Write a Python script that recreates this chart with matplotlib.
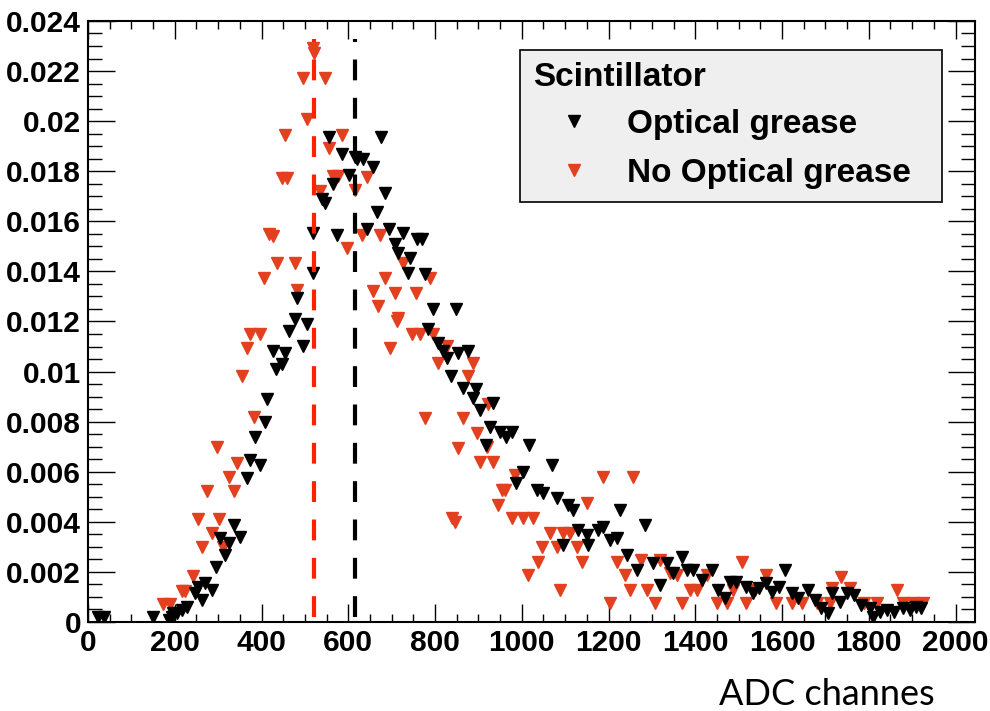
import matplotlib
matplotlib.use("Agg")
import matplotlib.pyplot as plt
from matplotlib.ticker import MultipleLocator, FuncFormatter

plt.rcParams['font.family'] = ['Liberation Sans', 'DejaVu Sans']

# --- values ---
# Optical grease (black)
grease_x = [23, 37, 150, 187, 194, 196, 205, 217, 228, 247, 253, 263, 270, 286, 295, 316, 304, 325, 336, 350,
            366, 373, 396, 385, 408, 412, 433, 447, 426, 454, 463, 477, 495, 505, 482, 518, 518, 539, 546, 555,
            564, 574, 585, 601, 615, 620, 634, 643, 657, 666, 675, 684, 694, 707, 714, 726, 742, 758, 770, 737,
            776, 795, 848, 783, 806, 818, 827, 852, 876, 836, 864, 894, 887, 903, 933, 926, 949, 963, 977, 917,
            1016, 1002, 986, 1034, 1048, 1069, 1081, 1106, 1117, 1129, 1150, 1175, 1187, 1226, 1283, 1203, 1219,
            1094, 1152, 1242, 1265, 1302, 1334, 1318, 1348, 1369, 1380, 1394, 1415, 1438, 1452, 1468, 1479, 1495,
            1518, 1532, 1548, 1564, 1578, 1594, 1606, 1622, 1636, 1659, 1675, 1691, 1705, 1716, 1733, 1749, 1767,
            1783, 1802, 1809, 1825, 1843, 1859, 1878, 1894, 1910, 1921]
grease_y = [0.20, 0.20, 0.20, 0.08, 0.20, 0.36, 0.36, 0.48, 0.60, 1.16, 1.39, 0.88, 1.55, 1.27, 2.19, 2.67, 3.35,
            3.15, 3.86, 3.39, 5.74, 6.45, 6.25, 7.37, 7.97, 8.92, 10.12, 10.32, 10.84, 10.76, 11.63, 12.11, 11.04,
            11.91, 12.95, 13.94, 15.54, 16.89, 16.73, 19.36, 17.49, 15.46, 18.68, 17.85, 18.57, 18.49, 18.49,
            15.70, 18.17, 16.37, 19.36, 17.13, 15.70, 15.10, 14.74, 15.54, 14.54, 15.30, 15.30, 13.94, 13.90,
            12.51, 12.51, 11.71, 11.16, 10.84, 10.56, 10.76, 10.84, 9.84, 9.36, 9.32, 8.96, 8.45, 8.76, 7.77,
            7.57, 7.37, 7.57, 7.05, 7.05, 5.98, 5.54, 5.26, 5.14, 6.25, 4.94, 4.66, 4.46, 3.67, 3.47, 3.67, 3.78,
            4.46, 3.86, 3.27, 3.35, 3.07, 3.07, 2.67, 2.07, 2.35, 2.35, 1.47, 1.95, 2.59, 2.07, 2.07, 1.67, 2.07,
            1.27, 0.96, 1.59, 1.59, 1.39, 1.16, 1.35, 1.55, 1.20, 1.39, 2.07, 1.16, 0.96, 1.27, 0.88, 0.56, 0.36,
            1.16, 0.80, 1.16, 1.08, 0.68, 0.56, 0.20, 0.40, 0.48, 0.40, 0.56, 0.48, 0.60, 0.56]

# No optical grease (red)
nogrease_x = [173, 189, 217, 223, 242, 263, 286, 311, 253, 302, 274, 336, 325, 343, 297, 382, 355, 366, 373, 396,
              406, 417, 426, 435, 477, 482, 447, 458, 454, 495, 505, 518, 521, 535, 546, 555, 564, 576, 585, 597,
              615, 631, 643, 673, 684, 657, 668, 707, 714, 726, 756, 788, 712, 696, 746, 765, 795, 806, 827, 887,
              876, 922, 776, 864, 896, 852, 903, 933, 919, 984, 954, 961, 945, 839, 846, 977, 1002, 1025, 1187,
              1256, 1150, 1064, 1094, 1111, 1046, 1081, 1127, 1037, 1138, 1219, 1014, 1237, 1087, 1249, 1288, 1203,
              1306, 1276, 1318, 1341, 1359, 1369, 1387, 1403, 1428, 1449, 1472, 1486, 1507, 1518, 1537, 1564, 1587,
              1622, 1647, 1680, 1710, 1716, 1737, 1756, 1790, 1820, 1866, 1878, 1901, 1924]
nogrease_y = [0.72, 0.72, 1.24, 1.24, 1.83, 2.99, 3.55, 2.99, 4.10, 4.10, 5.22, 5.22, 5.78, 6.33, 6.97, 8.17, 9.84,
              10.96, 11.51, 11.51, 13.74, 15.50, 15.42, 14.34, 14.34, 13.27, 17.73, 17.73, 19.44, 21.71, 20.08,
              22.91, 22.71, 17.21, 21.71, 18.92, 17.81, 17.81, 19.44, 14.94, 17.25, 15.46, 17.77, 15.46, 13.74,
              13.23, 12.63, 13.15, 12.15, 14.34, 13.15, 13.74, 12.03, 10.96, 11.51, 11.51, 11.51, 10.36, 11.04,
              10.36, 9.84, 8.72, 8.13, 8.13, 7.53, 6.93, 6.37, 6.37, 6.97, 5.86, 5.26, 5.26, 4.66, 4.14, 3.98, 4.14,
              4.14, 4.14, 5.78, 5.78, 4.74, 3.55, 3.55, 3.55, 2.99, 2.99, 2.99, 2.39, 2.39, 2.39, 1.87, 1.87, 1.27,
              1.27, 1.27, 0.76, 0.76, 2.47, 2.47, 1.95, 1.87, 0.76, 1.27, 1.27, 1.87, 0.76, 0.76, 1.27, 2.39, 0.76,
              1.27, 1.87, 0.76, 0.76, 0.76, 0.76, 0.76, 1.35, 1.79, 1.35, 0.76, 0.76, 1.27, 0.76, 0.76, 0.76]

# mean positions (dashed lines)
mean_grease = 615
mean_nogrease = 521
line_y = [0.0002, 0.0233]

labels = ['Optical grease', 'No Optical grease']
legend_title = 'Scintillator'

# --- figure ---
fig = plt.figure(figsize=(9.9, 7.11), dpi=100)
ax = fig.add_axes([0.0889, 0.1252, 0.8960, 0.8453])

red = '#e2401f'
h_red, = ax.plot(nogrease_x, [v * 1e-3 for v in nogrease_y], ls='none', marker='v', ms=9,
                 color=red, mec=red, zorder=2)
h_blk, = ax.plot(grease_x, [v * 1e-3 for v in grease_y], ls='none', marker='v', ms=9,
                 color='black', mec='black', zorder=3)

ax.plot([mean_nogrease] * 2, line_y, color='#ff2200', lw=3.0, ls=(0, (5, 4.2)), zorder=4)
ax.plot([mean_grease] * 2, line_y, color='black', lw=3.0, ls=(0, (5, 4.2)), zorder=4)

ax.set_xlim(0, 2045)
ax.set_ylim(0, 0.024)
ax.xaxis.set_major_locator(MultipleLocator(200))
ax.xaxis.set_minor_locator(MultipleLocator(50))
ax.yaxis.set_major_locator(MultipleLocator(0.002))
ax.yaxis.set_minor_locator(MultipleLocator(0.0005))
ax.yaxis.set_major_formatter(FuncFormatter(lambda v, _: '0' if abs(v) < 1e-9 else f'{v:g}'))

ax.tick_params(which='both', direction='in', top=True, right=True, width=1.0)
ax.tick_params(axis='x', which='major', length=13, pad=5)
ax.tick_params(axis='x', which='minor', length=6)
ax.tick_params(axis='y', which='major', length=19.5, pad=5)
ax.tick_params(axis='y', which='minor', length=10)
for lab in ax.get_xticklabels() + ax.get_yticklabels():
    lab.set_fontweight('bold')
    lab.set_fontsize(21.5)
for sp in ax.spines.values():
    sp.set_linewidth(1.5)

leg = ax.legend(handles=[h_blk, h_red], labels=labels, title=legend_title,
                loc='upper left', bbox_to_anchor=(0.487, 0.70, 0.476, 0.252), mode='expand',
                prop={'weight': 'bold', 'size': 24},
                title_fontproperties={'weight': 'bold', 'size': 24},
                alignment='left', fancybox=False, framealpha=1, borderaxespad=0,
                handlelength=2.5, handletextpad=0.33, borderpad=0.38, labelspacing=0.55,
                markerscale=1.0)
leg.get_frame().set_facecolor('#efefef')
leg.get_frame().set_edgecolor('black')
leg.get_frame().set_linewidth(1.2)
leg._legend_box.sep = 11

fig.text(935 / 990, 1 - 705 / 711, 'ADC channes', ha='right', va='baseline',
         fontsize=26, family='Lato')

fig.savefig('out.png', dpi=100)
